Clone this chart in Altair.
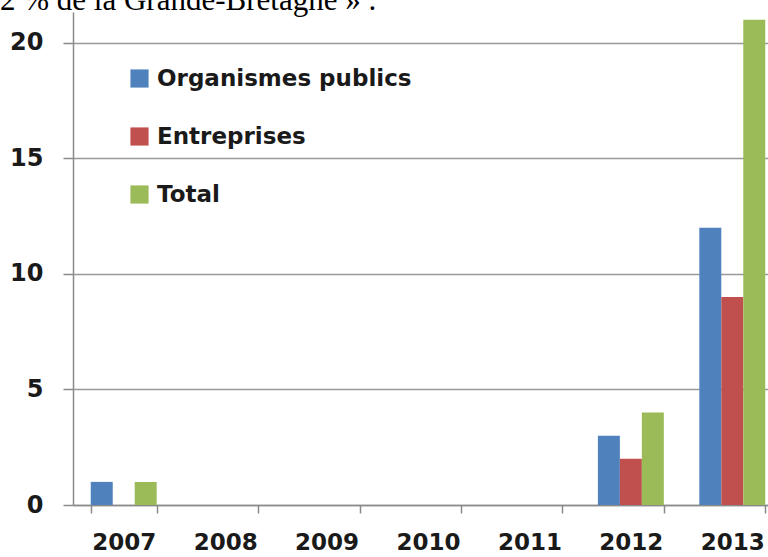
import altair as alt
import pandas as pd

years = ["2007", "2008", "2009", "2010", "2011", "2012", "2013"]
series = ["Organismes publics", "Entreprises", "Total"]
organismes_publics = [1, 0, 0, 0, 0, 3, 12]
entreprises = [0, 0, 0, 0, 0, 2, 9]
total = [1, 0, 0, 0, 0, 4, 21]
colors = ["#4F81BD", "#C0504D", "#9BBB59"]
y_ticks = [0, 5, 10, 15, 20]
header_text = "2 % de la Grande-Bretagne » ."

rows = []
for i, y in enumerate(years):
    for s, vals in zip(series, [organismes_publics, entreprises, total]):
        rows.append({"annee": y, "serie": s, "valeur": vals[i]})
df = pd.DataFrame(rows)

FONT = "DejaVu Sans"

bars = alt.Chart(df).mark_bar(clip=True).encode(
    x=alt.X(
        "annee:N",
        sort=years,
        scale=alt.Scale(range=[0, 710], paddingInner=0.35, paddingOuter=0.175),
        axis=alt.Axis(
            title=None, labelAngle=0, labelFont=FONT, labelFontWeight="bold",
            labelFontSize=23, labelColor="#1a1a1a", labelPadding=18,
            tickBand="extent", tickSize=8, tickColor="#8a8a8a", tickWidth=1.5,
            domainColor="#8a8a8a", domainWidth=1.5, grid=False,
        ),
    ),
    xOffset=alt.XOffset("serie:N", sort=series, scale=alt.Scale(paddingInner=0, paddingOuter=0)),
    y=alt.Y(
        "valeur:Q",
        scale=alt.Scale(domain=[0, 21.34], nice=False, zero=True),
        axis=alt.Axis(
            title=None, values=y_ticks, labelFont=FONT, labelFontWeight="bold",
            labelFontSize=24, labelColor="#1a1a1a", labelPadding=20,
            tickSize=10, tickColor="#8a8a8a", tickWidth=1.5,
            domainColor="#8a8a8a", domainWidth=1.5,
            grid=True, gridColor="#999999", gridWidth=1.5,
        ),
    ),
    color=alt.Color(
        "serie:N", sort=series,
        scale=alt.Scale(domain=series, range=colors),
        legend=alt.Legend(
            title=None, orient="none", legendX=55, legendY=55,
            symbolType="square", symbolSize=330, symbolStrokeWidth=0,
            labelFont=FONT, labelFontWeight="bold", labelFontSize=23,
            labelColor="#1a1a1a", labelOffset=6, rowPadding=34, padding=0,
            labelLimit=400,
        ),
    ),
)

header = alt.Chart(pd.DataFrame({"t": [header_text]})).mark_text(
    font="Liberation Serif", fontSize=31, align="left", baseline="alphabetic",
    color="#000000",
).encode(text="t:N", x=alt.value(-73), y=alt.value(-2))

chart = alt.layer(bars, header).properties(
    width=695, height=493,
    autosize=alt.AutoSizeParams(type="none"),
    padding={"left": 73, "top": 12, "right": 0, "bottom": 52},
    background="white",
).configure_view(stroke=None)

chart.save("out.html", embed_options={"renderer": "svg", "actions": False})
